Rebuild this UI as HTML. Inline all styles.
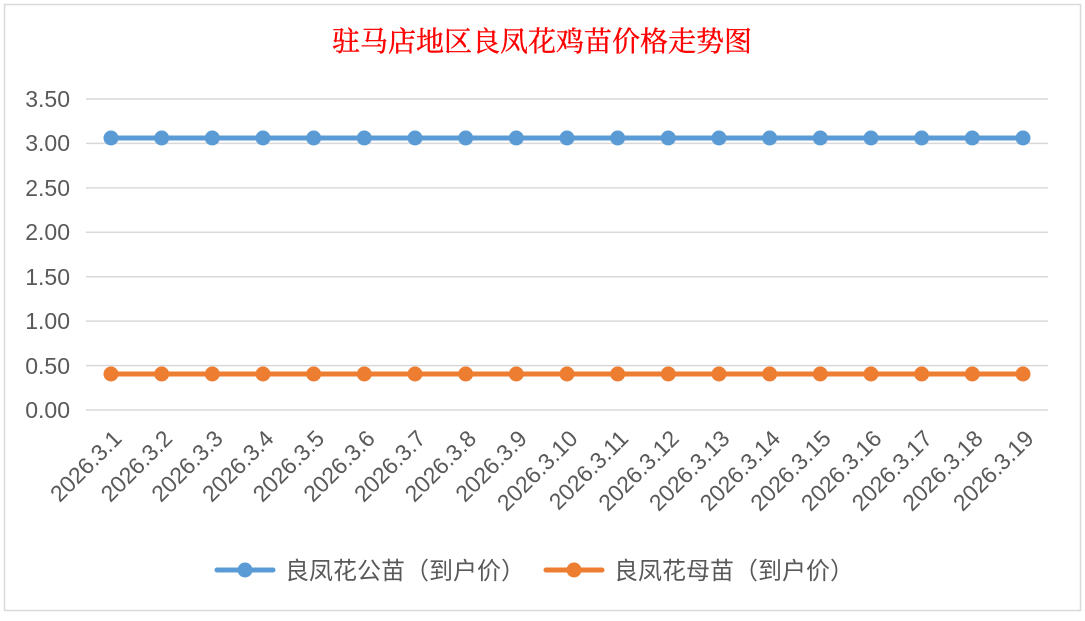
<!DOCTYPE html><html><head><meta charset="utf-8"><style>body{margin:0;background:#fff}</style></head><body>
<svg width="1085" height="616" xmlns="http://www.w3.org/2000/svg" font-family="Liberation Sans, Noto Sans CJK SC, sans-serif">
<rect width="1085" height="616" fill="#fff"/>
<rect x="4.5" y="4.5" width="1076" height="606" fill="#fff" stroke="#d9d9d9" stroke-width="1.5"/>
<text x="542" y="51" text-anchor="middle" font-size="28" fill="#ff0000" stroke="#ff0000" stroke-width="0.4" font-family="Liberation Serif, Noto Serif CJK SC, serif">驻马店地区良凤花鸡苗价格走势图</text>
<g stroke="#d9d9d9" stroke-width="1.5">
<line x1="86" y1="99" x2="1048" y2="99"/><line x1="86" y1="143.4" x2="1048" y2="143.4"/><line x1="86" y1="187.9" x2="1048" y2="187.9"/><line x1="86" y1="232.3" x2="1048" y2="232.3"/><line x1="86" y1="276.7" x2="1048" y2="276.7"/><line x1="86" y1="321.1" x2="1048" y2="321.1"/><line x1="86" y1="365.6" x2="1048" y2="365.6"/><line x1="86" y1="410" x2="1048" y2="410"/>
</g>
<g font-size="23" fill="#595959" text-anchor="end">
<text x="70" y="107">3.50</text><text x="70" y="151">3.00</text><text x="70" y="196">2.50</text><text x="70" y="240">2.00</text><text x="70" y="285">1.50</text><text x="70" y="329">1.00</text><text x="70" y="374">0.50</text><text x="70" y="418">0.00</text>
</g>
<defs><circle id="b" r="7.5" fill="#5b9bd5"/><circle id="o" r="7.5" fill="#ed7d31"/></defs>
<line x1="111" y1="138" x2="1023" y2="138" stroke="#5b9bd5" stroke-width="5"/>
<line x1="111" y1="374" x2="1023" y2="374" stroke="#ed7d31" stroke-width="5"/>
<g>
<use href="#b" x="111" y="138"/><use href="#b" x="161.7" y="138"/><use href="#b" x="212.3" y="138"/><use href="#b" x="263" y="138"/><use href="#b" x="313.7" y="138"/><use href="#b" x="364.3" y="138"/><use href="#b" x="415" y="138"/><use href="#b" x="465.7" y="138"/><use href="#b" x="516.3" y="138"/><use href="#b" x="567" y="138"/><use href="#b" x="617.7" y="138"/><use href="#b" x="668.3" y="138"/><use href="#b" x="719" y="138"/><use href="#b" x="769.7" y="138"/><use href="#b" x="820.3" y="138"/><use href="#b" x="871" y="138"/><use href="#b" x="921.7" y="138"/><use href="#b" x="972.3" y="138"/><use href="#b" x="1023" y="138"/>
<use href="#o" x="111" y="374"/><use href="#o" x="161.7" y="374"/><use href="#o" x="212.3" y="374"/><use href="#o" x="263" y="374"/><use href="#o" x="313.7" y="374"/><use href="#o" x="364.3" y="374"/><use href="#o" x="415" y="374"/><use href="#o" x="465.7" y="374"/><use href="#o" x="516.3" y="374"/><use href="#o" x="567" y="374"/><use href="#o" x="617.7" y="374"/><use href="#o" x="668.3" y="374"/><use href="#o" x="719" y="374"/><use href="#o" x="769.7" y="374"/><use href="#o" x="820.3" y="374"/><use href="#o" x="871" y="374"/><use href="#o" x="921.7" y="374"/><use href="#o" x="972.3" y="374"/><use href="#o" x="1023" y="374"/>
</g>
<g font-size="23" fill="#595959" text-anchor="end">
<text transform="translate(123,440) rotate(-45)">2026.3.1</text>
<text transform="translate(173.7,440) rotate(-45)">2026.3.2</text>
<text transform="translate(224.3,440) rotate(-45)">2026.3.3</text>
<text transform="translate(275,440) rotate(-45)">2026.3.4</text>
<text transform="translate(325.7,440) rotate(-45)">2026.3.5</text>
<text transform="translate(376.3,440) rotate(-45)">2026.3.6</text>
<text transform="translate(427,440) rotate(-45)">2026.3.7</text>
<text transform="translate(477.7,440) rotate(-45)">2026.3.8</text>
<text transform="translate(528.3,440) rotate(-45)">2026.3.9</text>
<text transform="translate(579,440) rotate(-45)">2026.3.10</text>
<text transform="translate(629.7,440) rotate(-45)">2026.3.11</text>
<text transform="translate(680.3,440) rotate(-45)">2026.3.12</text>
<text transform="translate(731,440) rotate(-45)">2026.3.13</text>
<text transform="translate(781.7,440) rotate(-45)">2026.3.14</text>
<text transform="translate(832.3,440) rotate(-45)">2026.3.15</text>
<text transform="translate(883,440) rotate(-45)">2026.3.16</text>
<text transform="translate(933.7,440) rotate(-45)">2026.3.17</text>
<text transform="translate(984.3,440) rotate(-45)">2026.3.18</text>
<text transform="translate(1035,440) rotate(-45)">2026.3.19</text>
</g>
<line x1="217" y1="570" x2="273" y2="570" stroke="#5b9bd5" stroke-width="5" stroke-linecap="round"/><circle cx="245" cy="570" r="7.5" fill="#5b9bd5"/>
<text x="285" y="579" font-size="24" fill="#595959">良凤花公苗（到户价）</text>
<line x1="546" y1="570" x2="602" y2="570" stroke="#ed7d31" stroke-width="5" stroke-linecap="round"/><circle cx="574" cy="570" r="7.5" fill="#ed7d31"/>
<text x="614" y="579" font-size="24" fill="#595959">良凤花母苗（到户价）</text>
</svg>
</body></html>
